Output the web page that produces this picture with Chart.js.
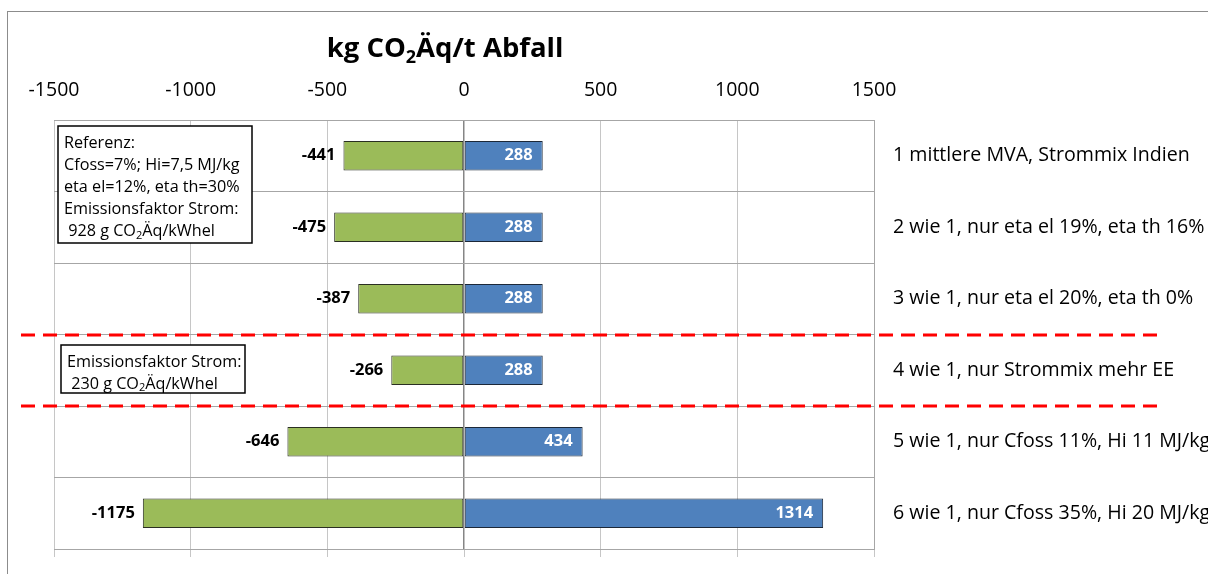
<!DOCTYPE html>
<html>
<head>
<meta charset="utf-8">
<script src="https://cdn.jsdelivr.net/npm/chart.js@4.4.1/dist/chart.umd.min.js"></script>
<style>
  body { margin: 0; background: #fff; }
  #wrap { position: relative; width: 1208px; height: 574px; overflow: hidden; }
  #frame { position: absolute; left: 7px; top: 11px; width: 1400px; height: 800px; border: 1px solid #8c8c8c; }
  #chart { position: absolute; left: 0; top: 0; }
</style>
</head>
<body>
<div id="wrap">
  <div id="frame"></div>
  <canvas id="chart" width="1208" height="574"></canvas>
</div>
<script>
// Daten
let kategorien = [
  '1 mittlere MVA, Strommix Indien',
  '2 wie 1, nur eta el 19%, eta th 16%',
  '3 wie 1, nur eta el 20%, eta th 0%',
  '4 wie 1, nur Strommix mehr EE',
  '5 wie 1, nur Cfoss 11%, Hi 11 MJ/kg',
  '6 wie 1, nur Cfoss 35%, Hi 20 MJ/kg'
];
let gutschriften = [-441, -475, -387, -266, -646, -1175];
let lasten = [288, 288, 288, 288, 434, 1314];
let achseMin = -1500;
let achseMax = 1500;
let achseSchritt = 500;

let schrift = '"Open Sans", Lato, sans-serif';

// Text mit tiefgestellten Teilen zeichnen
function zeichneText(ctx, teile, x, y, groesse, fett) {
  let gew = fett ? 'bold ' : '';
  teile.forEach(function (t) {
    let sub = t[1];
    ctx.font = gew + (sub ? Math.round(groesse * 0.65) : groesse) + 'px ' + schrift;
    ctx.fillText(t[0], x, sub ? y + groesse * 0.22 : y);
    x += ctx.measureText(t[0]).width;
  });
}

function breite(ctx, teile, groesse, fett) {
  let w = 0;
  let gew = fett ? 'bold ' : '';
  teile.forEach(function (t) {
    ctx.font = gew + (t[1] ? Math.round(groesse * 0.65) : groesse) + 'px ' + schrift;
    w += ctx.measureText(t[0]).width;
  });
  return w;
}

let extras = {
  id: 'extras',
  afterDraw: function (chart) {
    let ctx = chart.ctx;
    let area = chart.chartArea;
    let y = chart.scales.y;
    ctx.save();

    // Titel
    let titel = [['kg CO', false], ['2', true], ['Äq/t Abfall', false]];
    ctx.fillStyle = '#000';
    ctx.textBaseline = 'alphabetic';
    ctx.textAlign = 'left';
    let tw = breite(ctx, titel, 27.5, true);
    zeichneText(ctx, titel, 445 - tw / 2, 57, 27.5, true);

    // Werte an den Balken
    ctx.textBaseline = 'middle';
    chart.getDatasetMeta(0).data.forEach(function (bar, i) {
      ctx.font = 'bold 16.5px ' + schrift;
      ctx.fillStyle = '#000';
      ctx.textAlign = 'right';
      ctx.fillText(String(gutschriften[i]), bar.x - 8, bar.y);
    });
    chart.getDatasetMeta(1).data.forEach(function (bar, i) {
      ctx.font = 'bold 16.5px ' + schrift;
      ctx.fillStyle = '#fff';
      ctx.textAlign = 'right';
      ctx.fillText(String(lasten[i]), bar.x - 10, bar.y);
    });

    // rote Trennlinien zwischen den Gruppen
    ctx.strokeStyle = '#ff0000';
    ctx.lineWidth = 3;
    ctx.setLineDash([14, 8]);
    [2.5, 3.5].forEach(function (v) {
      let py = Math.round((y.getPixelForValue(Math.floor(v)) + y.getPixelForValue(Math.ceil(v))) / 2);
      ctx.beginPath();
      ctx.moveTo(area.left - 33, py);
      ctx.lineTo(area.right + 290, py);
      ctx.stroke();
    });
    ctx.setLineDash([]);

    // Textfelder
    ctx.textAlign = 'left';
    ctx.textBaseline = 'middle';
    function box(x, yy, w, h, zeilen) {
      ctx.fillStyle = '#fff';
      ctx.fillRect(x, yy, w, h);
      ctx.strokeStyle = '#000';
      ctx.lineWidth = 1.5;
      ctx.strokeRect(x, yy, w, h);
      ctx.fillStyle = '#000';
      zeilen.forEach(function (z, k) {
        zeichneText(ctx, z, x + 6, yy + 17 + k * 22.2, 16.2, false);
      });
    }
    box(area.left + 4, area.top + 6, 194, 117, [
      [['Referenz:', false]],
      [['Cfoss=7%; Hi=7,5 MJ/kg', false]],
      [['eta el=12%, eta th=30%', false]],
      [['Emissionsfaktor Strom:', false]],
      [[' 928 g CO', false], ['2', true], ['Äq/kWhel', false]]
    ]);
    box(area.left + 7, area.top + 225, 184, 48, [
      [['Emissionsfaktor Strom:', false]],
      [[' 230 g CO', false], ['2', true], ['Äq/kWhel', false]]
    ]);
    ctx.restore();
  }
};

new Chart(document.getElementById('chart'), {
  type: 'bar',
  data: {
    labels: kategorien,
    datasets: [{
      data: gutschriften,
      backgroundColor: '#9bbb59',
      borderColor: '#2a2f22',
      borderWidth: 1,
      borderSkipped: false
    }, {
      data: lasten,
      backgroundColor: '#4f81bd',
      borderColor: '#1c2838',
      borderWidth: 1,
      borderSkipped: false
    }]
  },
  options: {
    indexAxis: 'y',
    responsive: false,
    animation: false,
    categoryPercentage: 1,
    barPercentage: 0.41,
    layout: { padding: { left: 54, top: 0, right: 0, bottom: 17 } },
    plugins: { legend: { display: false }, tooltip: { enabled: false } },
    scales: {
      x: {
        position: 'top',
        stacked: true,
        min: achseMin,
        max: achseMax,
        ticks: {
          stepSize: achseSchritt, color: '#000', padding: 18,
          font: { family: schrift, size: 19.5 },
          callback: function (v) { return String(v); }
        },
        grid: {
          drawTicks: false,
          color: function (c) { return c.tick && c.tick.value === 0 ? '#868686' : '#c6c6c6'; },
          lineWidth: function (c) { return c.tick && c.tick.value === 0 ? 1.5 : 1; }
        },
        border: { display: false },
        afterFit: function (s) { s.height = 120; }
      },
      x2: {
        position: 'bottom',
        min: achseMin,
        max: achseMax,
        ticks: { display: false, stepSize: achseSchritt },
        grid: { drawOnChartArea: false, tickLength: 8, color: '#c6c6c6' },
        border: { display: false },
        afterFit: function (s) { s.height = 8; s.paddingLeft = 0; s.paddingRight = 0; }
      },
      y: {
        position: 'right',
        stacked: true,
        grid: { offset: true, drawTicks: false, color: '#a6a6a6' },
        border: { color: '#a6a6a6' },
        ticks: { color: '#000', padding: 19, font: { family: schrift, size: 19.6 } },
        afterFit: function (s) {
          s.width = 1208 - 874;
          s.paddingTop = 0;
          s.paddingBottom = 0;
        }
      }
    }
  },
  plugins: [extras]
});
</script>
</body>
</html>
